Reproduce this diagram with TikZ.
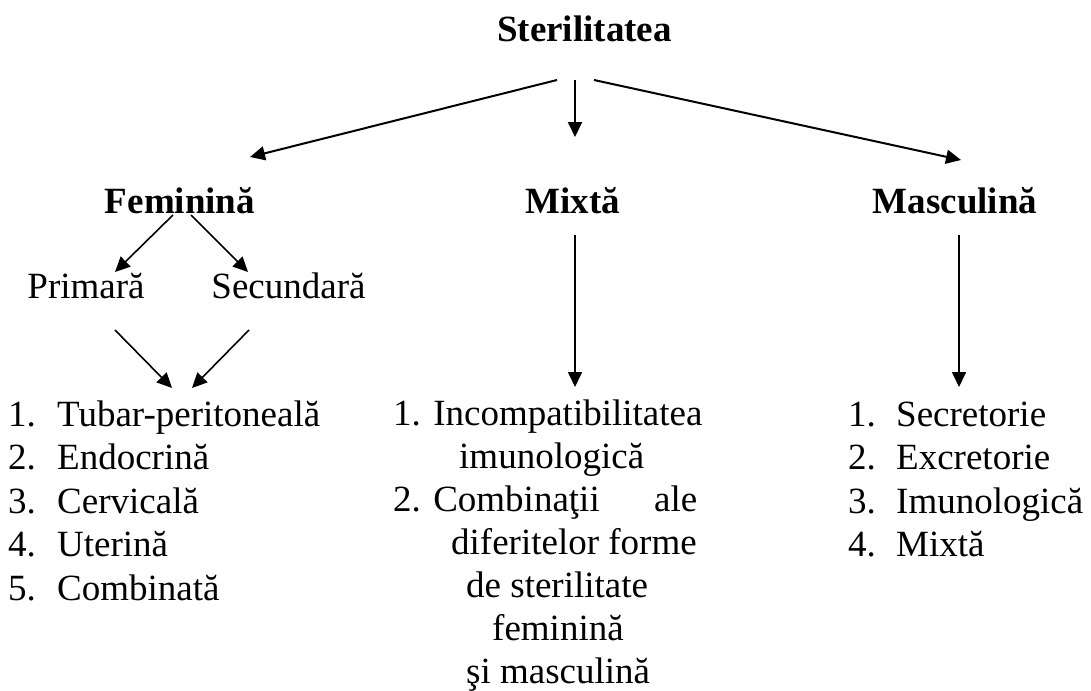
\documentclass[tikz,border=0pt]{standalone}
\usepackage{fontspec}
\setmainfont{Liberation Serif}
\usetikzlibrary{arrows.meta}
\begin{document}
\begin{tikzpicture}[x=1pt, y=-1pt, inner sep=0pt, font=\fontsize{37}{43.5}\selectfont,
  head node/.style={anchor=base, font=\fontsize{37}{43.5}\selectfont\bfseries},
  sub node/.style={anchor=base},
  list node/.style={anchor=base west},
  link/.style={-{Triangle[length=15pt,width=14pt]}, line width=1.6pt}]
\useasboundingbox (0,0) rectangle (1091,690);
\begin{scope}
\node[head node] (ster) at (584.5,42) {Sterilitatea};
\node[head node] (fem) at (180,213) {Feminină};
\node[head node] (mix) at (573,213) {Mixtă};
\node[head node] (masc) at (955,213) {Masculină};
\node[sub node] (prim) at (86,298) {Primară};
\node[sub node] (sec) at (288.5,298) {Secundară};
\node[list node] (femlist) at (8,426) {\begin{tabular}[t]{@{}l@{}}
\makebox[49pt][l]{1.}Tubar-peritoneală\\
\makebox[49pt][l]{2.}Endocrină\\
\makebox[49pt][l]{3.}Cervicală\\
\makebox[49pt][l]{4.}Uterină\\
\makebox[49pt][l]{5.}Combinată
\end{tabular}};
\node[list node, font=\fontsize{37}{43}\selectfont] (mixlist) at (393,425) {\begin{tabular}[t]{@{}l@{}}
1. Incompatibilitatea\\
\hspace*{66pt}imunologică\\
\makebox[304pt][l]{2. Combinaţii\hfill ale}\\
\hspace*{58pt}diferitelor forme\\
\hspace*{73pt}de sterilitate\\
\hspace*{99pt}feminină\\
\hspace*{73pt}şi masculină
\end{tabular}};
\node[list node] (masclist) at (848,426) {\begin{tabular}[t]{@{}l@{}}
\makebox[48pt][l]{1.}Secretorie\\
\makebox[48pt][l]{2.}Excretorie\\
\makebox[48pt][l]{3.}Imunologică\\
\makebox[48pt][l]{4.}Mixtă
\end{tabular}};
\end{scope}
\begin{scope}
\draw[link, line width=2pt] ([shift={(-27.5,38)}]ster.base) -- ([shift={(70,-56)}]fem.base);
\draw[link, line width=2pt] ([shift={(-9.5,38)}]ster.base) -- ([shift={(2,-76)}]mix.base);
\draw[link, line width=2pt] ([shift={(9.5,38)}]ster.base) -- ([shift={(6,-53)}]masc.base);
\draw[link] ([shift={(-7,2)}]fem.base) -- ([shift={(29,-26)}]prim.base);
\draw[link] ([shift={(11,2)}]fem.base) -- ([shift={(-40.5,-26)}]sec.base);
\draw[link] ([shift={(29,32)}]prim.base) -- ([shift={(164,-38)}]femlist.base west);
\draw[link] ([shift={(-39.5,32)}]sec.base) -- ([shift={(184,-38)}]femlist.base west);
\draw[link] ([shift={(2,22)}]mix.base) -- ([shift={(182,-38)}]mixlist.base west);
\draw[link] ([shift={(4,22)}]masc.base) -- ([shift={(111,-39)}]masclist.base west);
\end{scope}
\end{tikzpicture}
\end{document}
